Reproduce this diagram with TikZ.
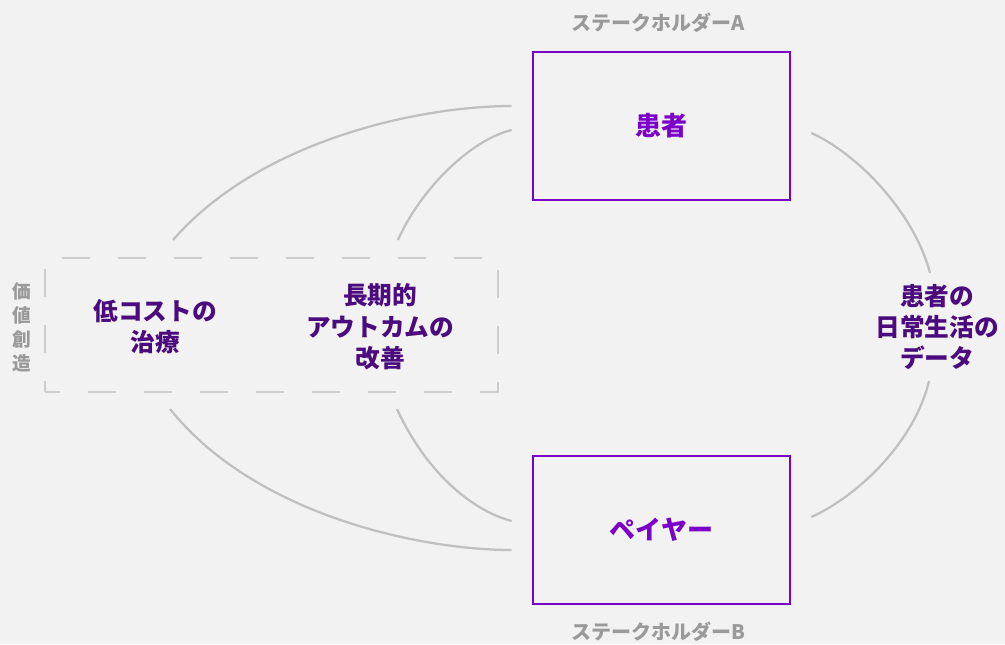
\documentclass[tikz,border=0pt]{standalone}
\usepackage{fontspec}
\newfontfamily\jp{Noto Sans CJK JP}
\usetikzlibrary{calc}
\definecolor{bgc}{HTML}{F2F2F2}
\definecolor{boxpurple}{HTML}{7B00C8}
\definecolor{itempurple}{HTML}{4B0A7D}
\definecolor{labgray}{HTML}{9A9A9A}
\definecolor{curvegray}{HTML}{C0C0C0}
\definecolor{dashgray}{HTML}{CDCDCD}
\begin{document}
\begin{tikzpicture}[x=0.75pt,y=-0.75pt,
  stakebox/.style={draw=boxpurple, line width=2pt, minimum width=192.75pt, minimum height=111pt, inner sep=0pt, text=boxpurple, font=\jp\bfseries\fontsize{19.5}{24}\selectfont},
  stakelabel/.style={text=labgray, inner sep=0pt, font=\jp\bfseries\fontsize{15}{18}\selectfont},
  itemtext/.style={text=itempurple, align=center, inner sep=0pt, font=\jp\bfseries\fontsize{18.5}{23.5}\selectfont},
  grouplabel/.style={text=labgray, align=center, inner sep=0pt, font=\jp\bfseries\fontsize{14}{18}\selectfont},
  groupbox/.style={draw=dashgray, line width=1.5pt, dash pattern=on 21pt off 21pt, dash phase=10pt, minimum width=339.75pt, minimum height=100.5pt, inner sep=0pt},
  link/.style={draw=curvegray, line width=1.7pt}]
\fill[bgc] (0,0) rectangle (1005,644);
\useasboundingbox (0,0) rectangle (1005,644);

% group of value creation
\node[groupbox] (grp) at (271.5,325) {};
\node[grouplabel] (vc) at (22,327) {価\\値\\創\\造};
\node[itemtext] (cost) at (155,327) {低コストの\\治療};
\node[itemtext] (outc) at (380,327) {長期的\\アウトカムの\\改善};

% stakeholders
\node[stakebox] (A) at (661.5,126) {\raisebox{3pt}{患者}};
\node[stakebox] (B) at (661.5,530) {ペイヤー};
\node[stakelabel] (labA) at (658,23) {ステークホルダーA};
\node[stakelabel] (labB) at (658,632) {ステークホルダーB};

% data
\node[itemtext] (data) at (937,327) {患者の\\日常生活の\\データ};

% connector ends
\coordinate (c1t) at (173,240);
\coordinate (c2t) at (398,240);
\coordinate (c1b) at (170,409);
\coordinate (c2b) at (397,409);
\coordinate (aw1) at ($(A.west)+(-20,-20)$);
\coordinate (aw2) at ($(A.west)+(-20,4)$);
\coordinate (bw1) at ($(B.west)+(-20,20)$);
\coordinate (bw2) at ($(B.west)+(-20,-9)$);
\coordinate (ae) at ($(A.east)+(20,7)$);
\coordinate (be) at ($(B.east)+(20,-13)$);
\coordinate (dt) at (930,273);
\coordinate (db) at (929,381);

\draw[link] (c1t) .. controls (260,140) and (420,106) .. (aw1);
\draw[link] (c2t) .. controls (420,190) and (470,140) .. (aw2);
\draw[link] (c1b) .. controls (255,515) and (420,550) .. (bw1);
\draw[link] (c2b) .. controls (425,470) and (470,510) .. (bw2);
\draw[link] (ae) .. controls (860,155) and (915,215) .. (dt);
\draw[link] (db) .. controls (915,440) and (860,495) .. (be);
\end{tikzpicture}
\end{document}
